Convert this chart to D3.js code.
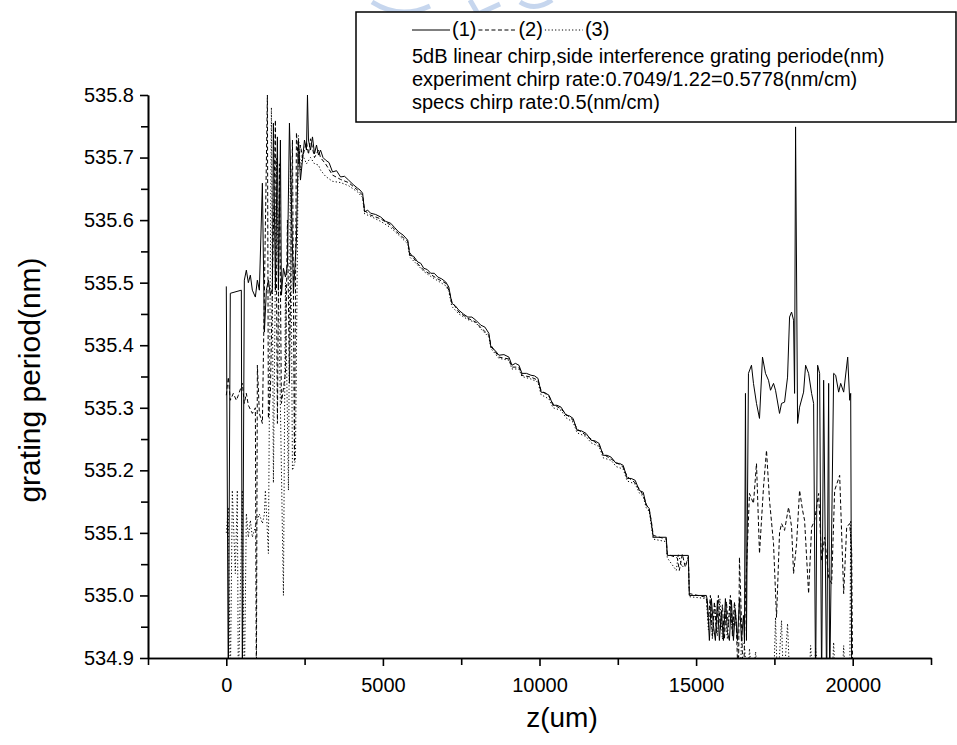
<!DOCTYPE html>
<html>
<head>
<meta charset="utf-8">
<script src="https://cdn.jsdelivr.net/npm/d3@7"></script>
<style>
  body { margin: 0; background: #fff; }
  text { font-family: "Liberation Sans", Arial, sans-serif; fill: #000; }
</style>
</head>
<body>
<svg id="chart" width="957" height="745"></svg>
<script>
// [z (um), grating period (nm)]
const series1 = [[0,535.494],[64,534.85],[128,535.483],[480,535.488],[512,534.85],[576,535.504],[640,535.520],[704,535.500],[768,535.512],[832,535.488],[928,535.477],[992,535.504],[1056,535.488],[1152,535.659],[1216,535.421],[1280,535.488],[1344,535.504],[1408,535.480],[1472,535.490],[1504,535.755],[1568,535.488],[1632,535.733],[1664,535.488],[1728,535.728],[1760,535.480],[1824,535.523],[1888,535.509],[1952,535.528],[2016,535.755],[2080,535.632],[2144,535.483],[2240,535.570],[2304,535.728],[2368,535.664],[2432,535.696],[2496,535.728],[2560,535.712],[2592,535.800],[2624,535.728],[2688,535.712],[2752,535.733],[2816,535.706],[2880,535.720],[2944,535.704],[3008,535.712],[3088,535.700],[3168,535.696],[3280,535.692],[3392,535.677],[3520,535.679],[3648,535.669],[3776,535.670],[3904,535.664],[4048,535.657],[4192,535.651],[4272,535.648],[4352,535.643],[4416,535.613],[4512,535.616],[4608,535.611],[4768,535.609],[4928,535.605],[5088,535.598],[5248,535.595],[5376,535.588],[5504,535.581],[5648,535.576],[5792,535.568],[5856,535.544],[5984,535.542],[6112,535.533],[6208,535.531],[6304,535.523],[6416,535.521],[6528,535.515],[6640,535.515],[6752,535.509],[6880,535.506],[7008,535.501],[7104,535.493],[7200,535.467],[7312,535.463],[7424,535.456],[7568,535.450],[7712,535.445],[7840,535.445],[7968,535.440],[8128,535.432],[8256,535.429],[8384,535.419],[8448,535.397],[8576,535.392],[8704,535.384],[8864,535.385],[9024,535.381],[9120,535.368],[9232,535.371],[9344,535.368],[9440,535.355],[9584,535.355],[9728,535.352],[9840,535.351],[9952,535.347],[10048,535.325],[10176,535.324],[10304,535.320],[10432,535.304],[10560,535.304],[10688,535.301],[10848,535.288],[10960,535.287],[11072,535.283],[11200,535.264],[11344,535.263],[11488,535.259],[11648,535.248],[11776,535.247],[11904,535.243],[12032,535.224],[12160,535.224],[12288,535.221],[12448,535.211],[12560,535.211],[12672,535.208],[12800,535.187],[12928,535.187],[13056,535.184],[13184,535.168],[13312,535.165],[13408,535.144],[13504,535.139],[13568,535.117],[13632,535.093],[14048,535.093],[14080,535.064],[14752,535.064],[14784,535.000],[15328,535.000],[15360,534.992],[15424,534.928],[15488,534.995],[15552,534.952],[15616,534.928],[15680,534.992],[15744,534.928],[15808,534.976],[15872,534.928],[15936,534.995],[16000,534.941],[16064,534.928],[16128,534.992],[16192,534.928],[16256,534.976],[16320,534.928],[16384,534.995],[16448,534.928],[16512,534.968],[16544,534.928],[16576,535.323],[16608,534.928],[16672,535.355],[16768,535.368],[16832,535.339],[16928,535.307],[17024,535.283],[17120,535.381],[17216,535.355],[17312,535.344],[17376,535.328],[17472,535.339],[17536,535.328],[17664,535.291],[17728,535.307],[17824,535.309],[17920,535.349],[17984,535.445],[18048,535.453],[18112,535.440],[18144,535.323],[18176,535.749],[18240,535.275],[18304,535.301],[18432,535.325],[18496,535.368],[18592,535.355],[18688,535.323],[18752,535.307],[18816,534.85],[18880,535.368],[18944,535.355],[19008,534.85],[19072,535.344],[19168,534.85],[19232,535.339],[19264,534.85],[19392,535.355],[19456,535.352],[19552,535.325],[19616,535.339],[19712,535.325],[19840,535.381],[19904,535.312],[19936,535.323],[19968,534.85]];

const series2 = [[0,535.320],[64,535.349],[128,535.312],[224,535.323],[320,535.312],[384,535.320],[512,535.339],[576,535.307],[640,535.323],[704,535.304],[832,535.291],[928,535.300],[960,534.85],[992,535.368],[1056,535.291],[1152,535.275],[1312,535.800],[1344,535.283],[1408,535.323],[1568,535.760],[1632,535.275],[1696,535.690],[1760,535.307],[1888,535.355],[1952,535.600],[2016,535.339],[2112,535.728],[2176,535.216],[2240,535.740],[2304,535.690],[2368,535.720],[2432,535.700],[2560,535.725],[2624,535.705],[2688,535.730],[2816,535.700],[2944,535.712],[3008,535.700],[3168,535.690],[3392,535.672],[3648,535.665],[3904,535.660],[4192,535.648],[4352,535.640],[4416,535.615],[4608,535.608],[4928,535.602],[5248,535.592],[5504,535.578],[5792,535.566],[5856,535.548],[6112,535.530],[6304,535.520],[6528,535.513],[6752,535.506],[7008,535.499],[7104,535.488],[7200,535.470],[7424,535.453],[7712,535.443],[7968,535.437],[8128,535.428],[8384,535.416],[8448,535.400],[8704,535.381],[9024,535.378],[9120,535.365],[9344,535.365],[9440,535.352],[9728,535.349],[9952,535.344],[10048,535.328],[10304,535.318],[10432,535.306],[10688,535.298],[10848,535.290],[11072,535.280],[11200,535.266],[11488,535.256],[11648,535.250],[11904,535.240],[12032,535.226],[12288,535.218],[12448,535.213],[12672,535.205],[12800,535.190],[13056,535.180],[13184,535.170],[13312,535.160],[13408,535.146],[13504,535.136],[13568,535.120],[13632,535.096],[14048,535.090],[14080,535.066],[14400,535.060],[14464,535.040],[14560,535.066],[14656,535.045],[14752,535.062],[14784,535.003],[15328,534.997],[15392,534.960],[15456,535.000],[15520,534.935],[15584,534.990],[15648,534.940],[15712,535.000],[15776,534.945],[15840,534.985],[15904,534.930],[15968,534.990],[16032,534.950],[16096,535.000],[16160,534.935],[16224,534.990],[16288,534.945],[16352,534.85],[16384,535.061],[16448,534.960],[16512,534.85],[16576,535.000],[16704,535.163],[16832,535.147],[16928,535.211],[17024,535.067],[17152,535.173],[17248,535.232],[17344,535.152],[17472,535.083],[17568,534.965],[17664,535.100],[17728,535.115],[17824,535.104],[17952,535.141],[18048,535.110],[18112,535.035],[18208,535.083],[18304,535.168],[18400,535.136],[18464,535.120],[18592,535.003],[18688,535.109],[18784,535.120],[18912,535.163],[19008,535.056],[19104,535.093],[19232,535.029],[19328,535.019],[19424,535.168],[19584,535.192],[19712,535.003],[19808,535.109],[19904,535.115],[19968,535.072],[20000,534.85]];

const series3 = [[0,535.100],[64,535.141],[128,534.85],[192,535.168],[288,535.035],[352,535.168],[384,534.85],[512,535.168],[576,534.85],[640,535.131],[704,535.093],[768,535.120],[832,535.093],[928,535.110],[1056,535.130],[1152,535.115],[1216,535.130],[1248,535.168],[1344,535.067],[1440,535.780],[1504,535.180],[1600,535.700],[1824,535.000],[1888,535.500],[1984,535.168],[2048,535.690],[2112,535.200],[2208,535.216],[2304,535.735],[2368,535.680],[2432,535.705],[2560,535.690],[2688,535.700],[2816,535.690],[2944,535.688],[3008,535.680],[3168,535.670],[3392,535.662],[3648,535.660],[3904,535.655],[4192,535.645],[4352,535.636],[4416,535.610],[4608,535.606],[4928,535.598],[5248,535.588],[5504,535.576],[5792,535.562],[5856,535.541],[6112,535.528],[6304,535.518],[6528,535.510],[6752,535.503],[7008,535.495],[7104,535.486],[7200,535.462],[7424,535.450],[7712,535.441],[7968,535.436],[8128,535.426],[8384,535.413],[8448,535.395],[8704,535.379],[9024,535.376],[9120,535.362],[9344,535.362],[9440,535.350],[9728,535.346],[9952,535.341],[10048,535.321],[10304,535.314],[10432,535.300],[10688,535.296],[10848,535.284],[11072,535.277],[11200,535.260],[11488,535.254],[11648,535.244],[11904,535.238],[12032,535.220],[12288,535.216],[12448,535.206],[12672,535.202],[12800,535.183],[13056,535.178],[13184,535.164],[13312,535.158],[13408,535.140],[13504,535.134],[13568,535.112],[13632,535.090],[14048,535.086],[14080,535.060],[14368,535.040],[14432,535.066],[14560,535.045],[14752,535.058],[14784,534.998],[15328,534.995],[15392,534.945],[15456,534.990],[15520,534.930],[15600,534.985],[15680,534.935],[15760,534.995],[15840,534.930],[15920,534.975],[16000,534.930],[16080,534.995],[16160,534.940],[16240,534.985],[16320,534.930],[16400,534.85],[16448,534.928],[16544,534.920],[16640,534.85],[16704,534.915],[16800,534.85],[16900,534.910],[17000,534.85],[17472,534.85],[17536,534.965],[17600,534.85],[17728,534.960],[17792,534.85],[17920,534.955],[18000,534.85],[18600,534.85],[18656,534.920],[18752,534.85],[18816,534.915],[18944,534.85],[19328,534.85],[19392,534.925],[19456,534.85],[19648,534.85],[19712,534.920],[19776,534.85],[19904,534.85],[19936,535.120],[19968,534.85]];

const seriesNames = ["(1)", "(2)", "(3)"];
const xMajorTicks = [0, 5000, 10000, 15000, 20000];
const xMinorTicks = [-2500, 2500, 7500, 12500, 17500, 22500];
const yMajorTicks = [534.9, 535.0, 535.1, 535.2, 535.3, 535.4, 535.5, 535.6, 535.7, 535.8];
const yMinorTicks = [534.95, 535.05, 535.15, 535.25, 535.35, 535.45, 535.55, 535.65, 535.75];
const notes = [
  "5dB linear chirp,side interference grating periode(nm)",
  "experiment chirp rate:0.7049/1.22=0.5778(nm/cm)",
  "specs chirp rate:0.5(nm/cm)"
];

const plotLeft = 148, plotRight = 931, plotTop = 95, plotBottom = 658;
const svg = d3.select("#chart");

const x = d3.scaleLinear().domain([-2500, 22500]).range([plotLeft, plotRight]);
const y = d3.scaleLinear().domain([534.9, 535.8]).range([plotBottom, plotTop]);

svg.append("defs").append("clipPath").attr("id", "plot")
  .append("rect")
  .attr("x", plotLeft).attr("y", plotTop - 1)
  .attr("width", plotRight - plotLeft).attr("height", plotBottom - plotTop + 1);

// faint watermark peeking above the legend box
const wm = svg.append("g").attr("fill", "none").attr("stroke", "#b9cdea").attr("stroke-width", 5).attr("opacity", 0.8);
wm.append("path").attr("d", "M372,2 Q400,20 430,6");
wm.append("path").attr("d", "M470,0 L478,14 L500,4");
wm.append("path").attr("d", "M520,2 Q535,12 552,0");

const line = d3.line().x(d => x(d[0])).y(d => y(d[1]));
const styles = [
  { data: series3, dash: "1.2,2.2" },
  { data: series2, dash: "4,2.5" },
  { data: series1, dash: null }
];

const plot = svg.append("g").attr("clip-path", "url(#plot)");
styles.forEach(s => {
  plot.append("path")
    .datum(s.data)
    .attr("d", line)
    .attr("fill", "none")
    .attr("stroke", "#000")
    .attr("stroke-width", 1)
    .attr("stroke-dasharray", s.dash);
});

// axes
function styleAxis(g) {
  g.select(".domain").attr("stroke", "#000").attr("stroke-width", 1.6);
  g.selectAll(".tick line").attr("stroke", "#000").attr("stroke-width", 1.6);
  g.selectAll(".tick text").style("font-size", "20px");
}

svg.append("g")
  .attr("transform", `translate(0,${plotBottom})`)
  .call(d3.axisBottom(x).tickValues(xMinorTicks).tickSize(7).tickSizeOuter(0).tickFormat(""))
  .call(styleAxis);
svg.append("g")
  .attr("transform", `translate(0,${plotBottom})`)
  .call(d3.axisBottom(x).tickValues(xMajorTicks).tickSize(8).tickSizeOuter(0).tickPadding(12).tickFormat(d3.format("d")))
  .call(styleAxis);

svg.append("g")
  .attr("transform", `translate(${plotLeft},0)`)
  .call(d3.axisLeft(y).tickValues(yMinorTicks).tickSize(7).tickSizeOuter(0).tickFormat(""))
  .call(styleAxis);
svg.append("g")
  .attr("transform", `translate(${plotLeft},0)`)
  .call(d3.axisLeft(y).tickValues(yMajorTicks).tickSize(8).tickSizeOuter(0).tickPadding(6).tickFormat(d3.format(".1f")))
  .call(styleAxis);

svg.append("text")
  .attr("x", 562).attr("y", 727)
  .attr("text-anchor", "middle")
  .style("font-size", "28px")
  .text("z(um)");

svg.append("text")
  .attr("transform", `translate(40,380) rotate(-90)`)
  .attr("text-anchor", "middle")
  .style("font-size", "30px")
  .text("grating period(nm)");

// legend box
const lg = svg.append("g");
lg.append("rect")
  .attr("x", 356).attr("y", 12)
  .attr("width", 600).attr("height", 110)
  .attr("fill", "#fff").attr("stroke", "#000").attr("stroke-width", 1.5);

const lx = 412, ly = 36;
let cx = lx;
[null, "4,2.5", "1.2,2.2"].forEach((dash, i) => {
  lg.append("line")
    .attr("x1", cx).attr("x2", cx + 38)
    .attr("y1", ly - 6).attr("y2", ly - 6)
    .attr("stroke", "#000").attr("stroke-width", 1)
    .attr("stroke-dasharray", dash);
  const t = lg.append("text")
    .attr("x", cx + 40).attr("y", ly)
    .style("font-size", "20px")
    .text(seriesNames[i]);
  cx += 40 + t.node().getComputedTextLength() + 2;
});

notes.forEach((n, i) => {
  lg.append("text")
    .attr("x", lx).attr("y", 63 + i * 23)
    .style("font-size", "20px")
    .text(n);
});
</script>
</body>
</html>
